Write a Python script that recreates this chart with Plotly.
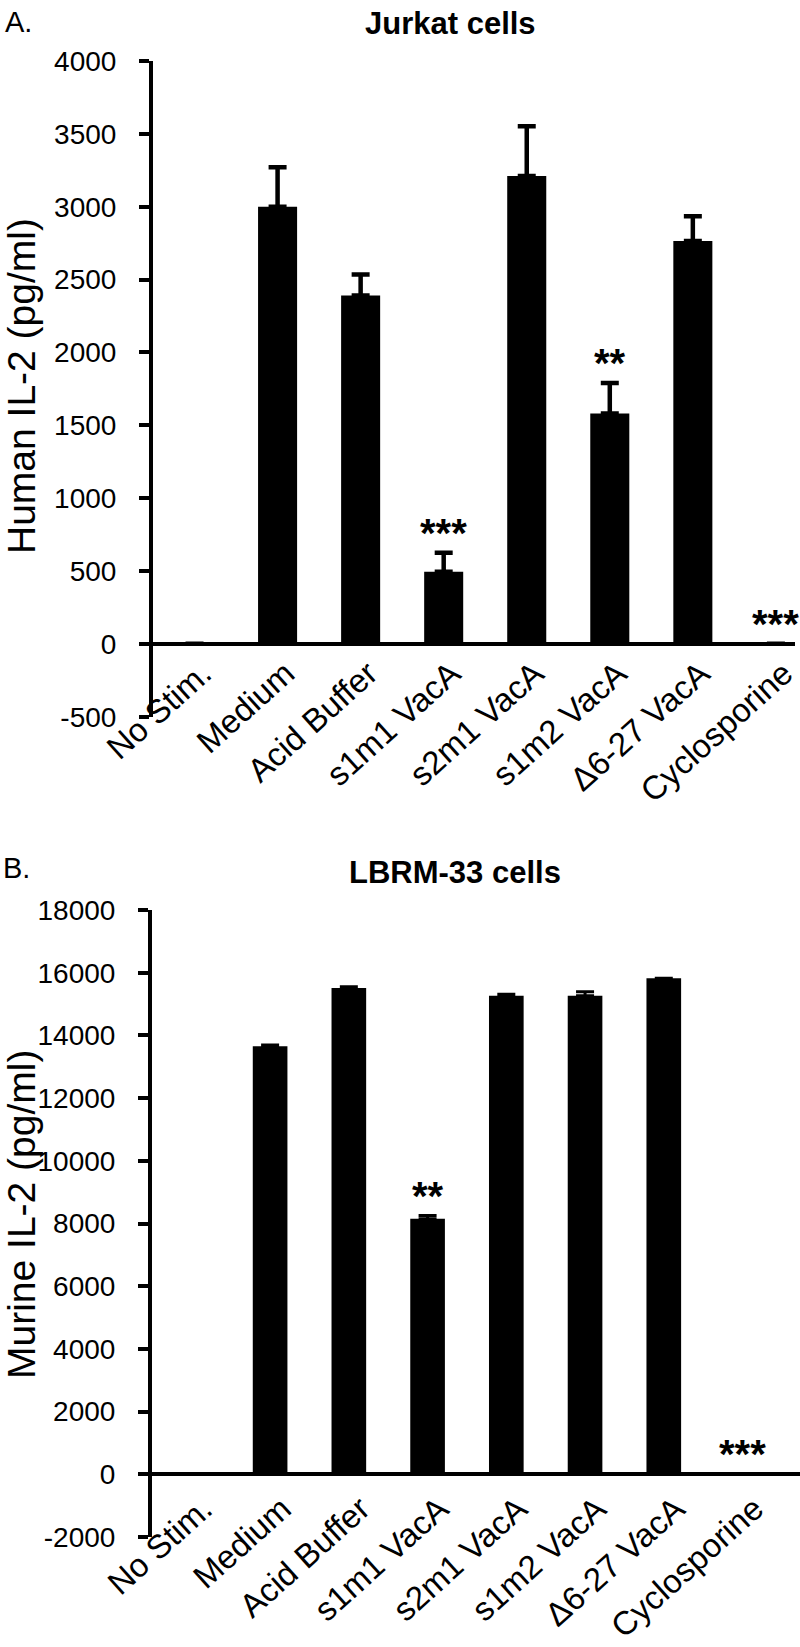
import plotly.graph_objects as go

categories = ["No Stim.", "Medium", "Acid Buffer", "s1m1 VacA", "s2m1 VacA",
              "s1m2 VacA", "Δ6-27 VacA", "Cyclosporine"]

jurkat_values = [0, 3000, 2390, 495, 3210, 1580, 2765, 0]
jurkat_errors = [0, 270, 145, 130, 342, 211, 170, 0]
jurkat_stars = ["", "", "", "***", "", "**", "", "***"]

lbrm_values = [0, 13650, 15510, 8150, 15265, 15265, 15825, 0]
lbrm_errors = [0, 40, 45, 105, 50, 125, 0, 0]
lbrm_stars = ["", "", "", "**", "", "", "", "***"]

jurkat_ticks = [-500, 0, 500, 1000, 1500, 2000, 2500, 3000, 3500, 4000]
lbrm_ticks = [-2000, 0, 2000, 4000, 6000, 8000, 10000, 12000, 14000, 16000, 18000]

W, H = 800, 1647
FONT = "Liberation Sans, Arial, Helvetica, sans-serif"


def px(x):
    return x / W


def py(y):
    return 1 - y / H


fig = go.Figure()

fig.add_trace(go.Bar(
    x=list(range(len(categories))), y=jurkat_values, width=0.47,
    marker=dict(color="black", line=dict(width=0)),
    error_y=dict(type="data", array=jurkat_errors, arrayminus=[0] * len(categories),
                 symmetric=False, color="black", thickness=4.5, width=9),
    xaxis="x", yaxis="y", showlegend=False, hoverinfo="skip"))

fig.add_trace(go.Bar(
    x=list(range(len(categories))), y=lbrm_values, width=0.44,
    marker=dict(color="black", line=dict(width=0)),
    error_y=dict(type="data", array=lbrm_errors, arrayminus=[0] * len(categories),
                 symmetric=False, color="black", thickness=3, width=9),
    xaxis="x2", yaxis="y2", showlegend=False, hoverinfo="skip"))


def yaxis_style(ticks, rng, dom, anchor):
    return dict(domain=dom, anchor=anchor, range=rng, automargin=False,
                tickmode="array", tickvals=ticks, ticktext=[str(t) for t in ticks],
                ticks="outside", ticklen=10, tickwidth=4, tickcolor="black",
                showline=True, linecolor="black", linewidth=4, showgrid=False,
                zeroline=True, zerolinecolor="black", zerolinewidth=4,
                ticklabelstandoff=17,
                tickfont=dict(family=FONT, size=28, color="black"))


def xaxis_style(dom, rng, anchor, standoff, shift):
    return dict(domain=dom, anchor=anchor, range=rng, automargin=False,
                tickmode="array", tickvals=list(range(len(categories))), ticktext=categories,
                tickangle=-42, ticks="", showline=False, showgrid=False, zeroline=False,
                ticklabeloverflow="allow",
                tickfont=dict(family=FONT, size=33, color="black"),
                ticklabelstandoff=standoff, ticklabelshift=shift)


fig.update_layout(
    template="none",
    width=W, height=H,
    margin=dict(l=0, r=0, t=0, b=0, autoexpand=False),
    paper_bgcolor="white", plot_bgcolor="white",
    xaxis=xaxis_style([px(153), px(795)], [-0.5, 7.23], "y", -70, 8),
    yaxis=yaxis_style(jurkat_ticks, [-500, 4000], [py(716.7), py(61)], "x"),
    xaxis2=xaxis_style([px(152), px(800)], [-0.5, 7.73], "y2", -55, 12),
    yaxis2=yaxis_style(lbrm_ticks, [-2000, 18000], [py(1537), py(910)], "x2"),
)

annotations = []
# panel letters and titles
annotations.append(dict(text="A.", x=px(3), y=py(22), xref="paper", yref="paper",
                        xanchor="left", yanchor="middle", showarrow=False,
                        font=dict(family=FONT, size=29, color="black")))
annotations.append(dict(text="B.", x=px(1), y=py(868), xref="paper", yref="paper",
                        xanchor="left", yanchor="middle", showarrow=False,
                        font=dict(family=FONT, size=29, color="black")))
annotations.append(dict(text="<b>Jurkat cells</b>", x=px(450), y=py(24), xref="paper",
                        yref="paper", xanchor="center", yanchor="middle", showarrow=False,
                        font=dict(family=FONT, size=31, color="black")))
annotations.append(dict(text="<b>LBRM-33 cells</b>", x=px(455), y=py(872), xref="paper",
                        yref="paper", xanchor="center", yanchor="middle", showarrow=False,
                        font=dict(family=FONT, size=31, color="black")))
# y axis titles
annotations.append(dict(text="Human IL-2 (pg/ml)", x=px(21), y=py(386), xref="paper",
                        yref="paper", xanchor="center", yanchor="middle", textangle=-90,
                        showarrow=False, font=dict(family=FONT, size=39, color="black")))
annotations.append(dict(text="Murine IL-2 (pg/ml)", x=px(21), y=py(1215), xref="paper",
                        yref="paper", xanchor="center", yanchor="middle", textangle=-90,
                        showarrow=False, font=dict(family=FONT, size=39, color="black")))

# significance stars
STAR_SHIFT = 20
for i, s in enumerate(jurkat_stars):
    if s:
        annotations.append(dict(text="<b>%s</b>" % s, x=i, y=jurkat_values[i] + jurkat_errors[i],
                                xref="x", yref="y", xanchor="center", yanchor="middle",
                                yshift=STAR_SHIFT, showarrow=False,
                                font=dict(family=FONT, size=40, color="black")))
for i, s in enumerate(lbrm_stars):
    if s:
        annotations.append(dict(text="<b>%s</b>" % s, x=i, y=lbrm_values[i] + lbrm_errors[i],
                                xref="x2", yref="y2", xanchor="center", yanchor="middle",
                                yshift=STAR_SHIFT, showarrow=False,
                                font=dict(family=FONT, size=40, color="black")))

fig.update_layout(annotations=annotations)
fig.write_html("out.html", config={"displayModeBar": False},
               post_script="document.body.style.margin='0';document.body.style.padding='0';")
